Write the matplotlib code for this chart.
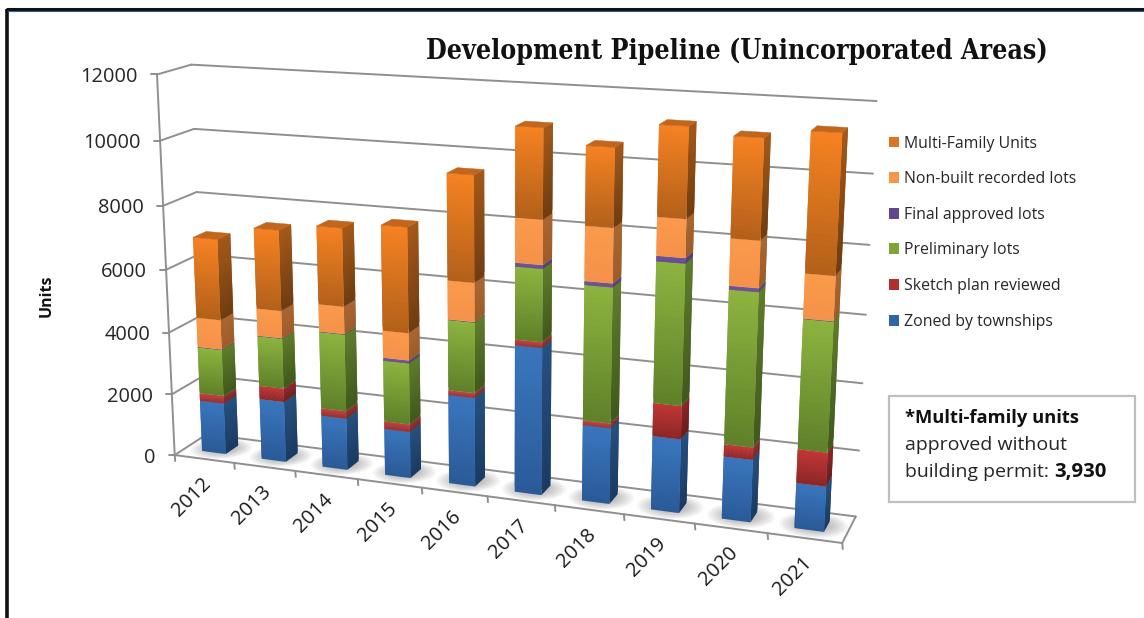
import numpy as np
import matplotlib
matplotlib.use("Agg")
import matplotlib.pyplot as plt
from matplotlib.collections import PolyCollection
from matplotlib.patches import Patch, Rectangle, Polygon

years = ["2012","2013","2014","2015","2016","2017","2018","2019","2020","2021"]
zoned   = [1660,1950,1650,1470,2780,4530,2330,2240,1880,1350]
sketch  = [250,430,240,240,150,175,145,995,365,1000]
prelim  = [1500,1600,2430,1920,2170,2190,4060,4170,4530,3780]
final   = [15,15,15,90,15,115,115,160,110,15]
nonbuilt= [940,860,850,845,1180,1330,1610,1110,1345,1270]
multi   = [2560,2520,2420,3230,3200,2650,2300,2600,2850,3930]
series_names = ["Zoned by townships","Sketch plan reviewed","Preliminary lots",
                "Final approved lots","Non-built recorded lots","Multi-Family Units"]
series_values = [zoned,sketch,prelim,final,nonbuilt,multi]
y_ticks = [0,2000,4000,6000,8000,10000,12000]

# colours: front top, front bottom, side top, side bottom, legend
STYLE = [("#3a76bd","#2a5a98","#26507f","#1a3a62","#2f66a8"),
         ("#c23636","#8c2626","#8e2626","#661c1c","#b03030"),
         ("#8db43f","#5f8029","#5f7d2c","#3f581c","#7fa436"),
         ("#64488f","#5a4084","#4a3570","#40305f","#60478c"),
         ("#fa9a4a","#f5914a","#aa6630","#9c5c2a","#f79646"),
         ("#f68222","#b2601a","#a4591a","#6e3c10","#dd7420")]
TOPC = "#c2661c"

# Camera fit: world (category, depth, value/1000) -> reference pixel landmarks
cal = [(0,0,0,175,454),(0,0,2,172,393),(0,0,10,160,140),(0,0,12,155.5,75),
       (0,1,12,192,65),(0,1,10,194.5,129),(0,1,8,197,192),(0,1,0,205,435),
       (10,1,12,877,101),(10,1,10,873,174),(10,1,8,869,245),(10,1,6,866,314),
       (10,1,2,859,450),(10,1,0,856,516),(10,0,0,842,543),
       (1,0,0,235,463),(2,0,0,296,471),(3,0,0,358.6,480),(4,0,0,422,489),
       (6,0,0,554,505),(7,0,0,623,514),(9,0,0,768,534)]
A=[];b=[]
for X,Y,Z,u,v in cal:
    A.append([X,Y,Z,1,0,0,0,0,-u*X,-u*Y,-u*Z]);b.append(u)
    A.append([0,0,0,0,X,Y,Z,1,-v*X,-v*Y,-v*Z]);b.append(v)
P=np.linalg.lstsq(np.array(A,float),np.array(b,float),rcond=None)[0]
P=np.append(P,1).reshape(3,4)
def proj(x,y,val):
    h=P@np.array([x,y,val/1000.0,1.0])
    return (h[0]/h[2],h[1]/h[2])

def mix(c1,c2,t):
    a=np.array(matplotlib.colors.to_rgb(c1));b_=np.array(matplotlib.colors.to_rgb(c2))
    return tuple(a+(b_-a)*t)

fig=plt.figure(figsize=(11.44,6.18),dpi=100)
ax=fig.add_axes([0,0,1,1]);ax.set_xlim(0,1144);ax.set_ylim(618,0);ax.axis("off")
FONT="Open Sans"

# frame
ax.plot([6.5,6.5],[618,8.5],color="#111111",lw=2.6,solid_capstyle="butt",zorder=1)
ax.plot([6,1144],[8.5,8.5],color="#111111",lw=2.2,solid_capstyle="butt",zorder=1)
ax.plot([8,1144],[10.6,10.6],color="#2f5f95",lw=0.8,zorder=1)

grid="#8f8f8f"
def seg(p,q,lw=1.4,z=2):
    ax.plot([p[0],q[0]],[p[1],q[1]],color=grid,lw=lw,zorder=z,solid_capstyle="round")
for v in y_ticks:
    seg(proj(0,0,v),proj(0,1,v));seg(proj(0,1,v),proj(10,1,v))
    p=proj(0,0,v);seg((p[0]-6,p[1]),p)
    ax.text(p[0]-19,p[1]+2.5,str(v),ha="right",va="center",fontsize=14.4,family=FONT,color="#262626")
seg(proj(0,0,0),proj(0,0,12000))
seg(proj(0,0,0),proj(10,0,0));seg(proj(10,0,0),proj(10,1,0))
for i in range(11):
    p=proj(i,0,0);seg(p,(p[0]+0.5,p[1]+6))
for i,y in enumerate(years):
    p=proj(i+.5,0,0)
    ax.text(p[0]-3,p[1]+15,y,rotation=45,ha="right",va="top",rotation_mode="anchor",
            fontsize=14.5,family=FONT,color="#1a1a1a")

# shadows
t=np.linspace(0,2*np.pi,40)
for i in range(10):
    for k in range(12):
        s=1-k/12
        pts=[proj(i+.52+.46*s*np.cos(a),.5+.46*s*np.sin(a),0) for a in t]
        ax.add_patch(Polygon(pts,closed=True,fc="#404040",ec="none",alpha=.05,zorder=3))

# bars: slices painted upward with a one-slice overlap so the gradient has no seams
X0,X1,Y0,Y1=.3,.7,.3,.7
N=24
for i in range(10):
    base=0
    for s,vals in enumerate(series_values):
        v=vals[i]; ft,fb,st,sb,_=STYLE[s]
        zs=np.linspace(base,base+v,N+1)
        fp=[];fc=[];sp=[];sc=[]
        for k in range(N):
            z0=zs[k];z1=zs[min(k+2,N)];c=1-(k+.5)/N
            fp.append([proj(i+X0,Y0,z0),proj(i+X1,Y0,z0),proj(i+X1,Y0,z1),proj(i+X0,Y0,z1)])
            fc.append(mix(ft,fb,c))
            sp.append([proj(i+X1,Y0,z0),proj(i+X1,Y1,z0),proj(i+X1,Y1,z1),proj(i+X1,Y0,z1)])
            sc.append(mix(st,sb,c))
        pc1=PolyCollection(sp,facecolors=sc,edgecolors="none",zorder=4+s*.01);pc1.set_snap(False)
        pc2=PolyCollection(fp,facecolors=fc,edgecolors="none",zorder=4+s*.01+.005);pc2.set_snap(False)
        ax.add_collection(pc1);ax.add_collection(pc2)
        base+=v
    top=[proj(i+X0,Y0,base),proj(i+X1,Y0,base),proj(i+X1,Y1,base),proj(i+X0,Y1,base)]
    ax.add_patch(Polygon(top,closed=True,fc=TOPC,ec=TOPC,lw=.3,zorder=4.2,snap=False))

ax.text(737,51,"Development Pipeline (Unincorporated Areas)",ha="center",va="center",
        fontsize=19.2,fontweight="bold",family="DejaVu Serif",fontstretch="condensed",color="#111111")
ax.text(47,296,"Units",rotation=90,ha="center",va="center",fontsize=11.5,fontweight="bold",family=FONT,color="#111111")

handles=[Patch(fc=STYLE[s][4],ec="none",label=series_names[s]) for s in range(5,-1,-1)]
leg=ax.legend(handles=handles,loc="upper left",bbox_to_anchor=(888.5/1144,1-135.5/618),frameon=False,
          prop={"family":FONT,"size":11.4},labelspacing=1.24,handlelength=.67,handleheight=.67,
          handletextpad=.32,borderpad=0,borderaxespad=0,labelcolor="#262626")

ax.add_patch(Rectangle((889,396),246,105.5,fc="white",ec="#bfbfbf",lw=1.6,zorder=5))
ax.text(905,418,"*Multi-family units",fontsize=13.2,fontweight="bold",family=FONT,va="center",zorder=6,color="#111111")
ax.text(905,445,"approved without",fontsize=14,family=FONT,va="center",zorder=6,color="#262626")
t1=ax.text(905,472,"building permit: ",fontsize=14,family=FONT,va="center",zorder=6,color="#262626")
ax.annotate("3,930",xy=(1,.5),xycoords=t1,xytext=(0,0),textcoords="offset points",fontsize=14.6,fontweight="bold",
            family=FONT,va="center",zorder=6,color="#111111")
fig.savefig("out.png",dpi=100)
